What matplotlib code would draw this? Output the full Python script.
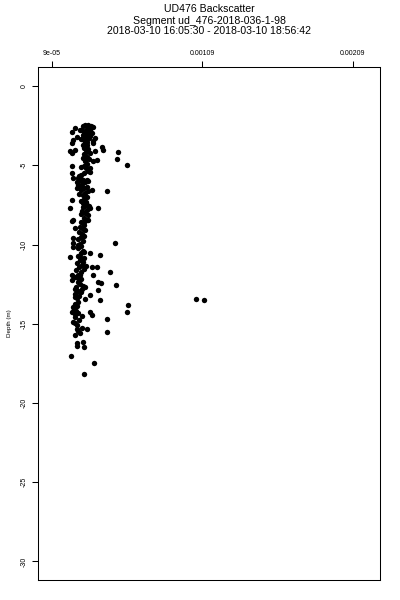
import numpy as np
import matplotlib
matplotlib.use("Agg")
import matplotlib.pyplot as plt

plt.rcParams['font.family'] = ['Liberation Sans', 'DejaVu Sans']

# backscatter in units of 1e-4, depth in m
depth = [
    -2.45, -2.45, -2.5, -2.55, -2.6, -2.7, -2.75, -2.8, -2.9, -2.95, -3.0, -3.1, -3.15, -3.25, -3.3, -3.4, -3.45, -3.5,
    -2.9, -2.65, -2.78, -3.41, -3.2,
    -3.6, -3.28, -4.1, -3.85, -4.05, -4.16, -4.6, -4.98,
    -4.1, -3.6, -4.04, -4.23,
    -3.6, -3.75, -3.9, -4.0, -4.15, -4.3, -4.45, -4.6, -4.75, -4.9, -5.05, -5.2, -5.35,
    -4.73, -4.67, -5.17, -5.05, -5.49, -5.8,
    -5.5, -5.6, -5.7, -5.8, -5.9, -5.95, -6.05, -6.15, -6.25, -6.35, -6.45, -6.55, -6.65, -6.75, -6.9, -7.0, -7.1,
    -5.74, -6.06, -5.93, -6.56, -6.62, -6.44, -7.19, -7.7, -7.7, -7.63, -7.7,
    -7.3, -7.4, -7.5, -7.6, -7.8, -7.9, -8.0, -8.15, -8.3, -8.45, -8.6, -8.75, -8.9, -9.05, -9.2, -9.35, -9.5, -9.65,
    -9.8, -9.95, -10.1, -10.25, -10.4,
    -8.45, -8.52, -8.96, -9.59, -9.9, -9.9, -10.16, -10.79, -8.45,
    -10.55, -10.7, -10.85, -11.0, -11.15, -11.3, -11.45, -11.6, -11.75, -11.9, -12.05, -12.2, -12.35, -12.5, -12.65,
    -12.8, -12.95, -13.1, -13.25, -13.4,
    -10.54, -10.66, -10.79, -11.36, -11.42, -11.42, -11.74, -11.92, -11.92, -11.92, -12.24, -12.37, -12.43, -12.56,
    -12.81, -12.68, -12.87, -13.31, -13.19, -13.44, -13.5, -13.44, -13.5,
    -13.94, -14.38, -14.26, -14.26, -14.45, -13.82, -14.26, -14.7, -14.51, -14.76, -14.89, -15.33, -15.27, -15.33,
    -15.58, -15.52, -16.15, -16.21, -16.4, -16.47, -17.03, -17.48, -18.17,
    -13.6, -13.75, -13.9, -14.05, -14.2, -14.35, -14.6, -14.95, -15.1, -15.45, -15.7,
    -2.6, -2.85, -3.05, -3.35, -3.7, -4.2, -4.55, -5.1, -5.45, -6.0, -6.3, -6.8, -7.25, -7.55, -8.1, -8.55,
    -9.1, -9.45, -10.0, -10.5, -11.1, -11.55, -12.1, -12.6, -13.0,
]
backscatter = [
    3.10, 3.30, 3.50, 2.97, 3.63, 3.20, 2.90, 3.40, 3.05, 3.55, 3.25, 2.95, 3.45, 3.15, 3.35, 3.00, 3.60, 3.20,
    2.23, 2.43, 2.77, 2.30, 2.57,
    3.63, 3.77, 3.77, 4.23, 4.30, 5.30, 5.23, 5.90,
    2.10, 2.23, 2.43, 2.23,
    3.10, 3.25, 3.05, 3.30, 3.15, 3.00, 3.20, 3.35, 3.10, 3.25, 3.00, 3.15, 3.30,
    3.63, 3.90, 3.43, 2.23, 2.23, 2.30,
    3.05, 2.85, 2.70, 2.60, 2.75, 2.95, 3.10, 2.90, 2.65, 3.20, 3.00, 2.80, 3.30, 3.10, 2.95, 3.20, 3.05,
    2.77, 2.57, 3.23, 3.57, 4.57, 2.57, 2.23, 2.10, 3.97, 2.97, 3.43,
    3.15, 2.95, 3.25, 3.05, 3.20, 2.90, 3.10, 3.30, 3.00, 3.20, 2.85, 3.05, 2.75, 2.95, 2.70, 2.90, 2.80, 2.65,
    2.95, 2.75, 2.85, 2.60, 2.95,
    2.30, 2.23, 2.43, 2.30, 2.30, 5.10, 2.30, 2.10, 3.30,
    2.80, 2.65, 3.00, 2.75, 2.55, 2.90, 2.70, 2.50, 2.85, 2.65, 2.45, 2.80, 2.60, 2.75, 2.50,
    2.90, 2.65, 2.45, 2.70, 2.55,
    3.43, 4.10, 2.77, 3.17, 3.57, 3.90, 4.77, 2.23, 2.77, 3.63, 2.23, 3.97, 4.17, 5.17,
    2.43, 3.10, 3.97, 2.43, 3.43, 3.10, 4.10, 10.5, 11.03,
    2.30, 2.43, 2.23, 3.43, 3.57, 5.97, 5.90, 4.57, 2.90, 2.70, 2.30, 2.57, 2.90, 3.23,
    2.77, 4.57, 2.97, 2.57, 2.57, 3.03, 2.17, 3.70, 3.03,
    2.60, 2.40, 2.55, 2.35, 2.50, 2.65, 2.45, 2.40, 2.55, 2.60, 2.45,
    3.40, 3.15, 3.35, 2.85, 2.95, 3.40, 2.95, 2.85, 3.40, 3.30, 2.80, 2.70, 2.85, 3.35, 2.80, 3.00,
    3.10, 3.05, 2.60, 3.05, 2.95, 3.05, 2.65, 2.95, 2.80,
]
backscatter = np.array(backscatter) * 1e-4

x_ticks = [9e-05, 0.00109, 0.00209]
x_tick_labels = ["9e-05", "0.00109", "0.00209"]
y_ticks = [0, -5, -10, -15, -20, -25, -30]
title_lines = ["UD476 Backscatter",
               "Segment ud_476-2018-036-1-98",
               "2018-03-10 16:05:30 - 2018-03-10 18:56:42"]

fig = plt.figure(figsize=(4, 6), dpi=100)
ax = fig.add_axes([0.096, 0.0333, 0.854, 0.855])

ax.scatter(backscatter, depth, s=15, c="black", marker="o", linewidths=0)

ax.set_xlim(0.0, 0.00227)
ax.set_ylim(-31.17, 1.2)

ax.xaxis.tick_top()
ax.set_xticks(x_ticks)
ax.set_xticklabels(x_tick_labels, fontsize=5)
ax.set_yticks(y_ticks)
ax.set_yticklabels([str(v) for v in y_ticks], fontsize=5, rotation=90, va="center")
ax.tick_params(axis="x", length=4, width=0.75, pad=3.5)
ax.tick_params(axis="y", length=4, width=0.75, pad=4)
for s in ax.spines.values():
    s.set_linewidth(0.75)

ax.set_ylabel("Depth (m)", fontsize=4.5, labelpad=6)

for i, line in enumerate(title_lines):
    fig.text(0.5225, 1 - (9.5 + 11 * i) / 600, line, fontsize=7.6, ha="center", va="center")

fig.savefig("out.png", dpi=100)
